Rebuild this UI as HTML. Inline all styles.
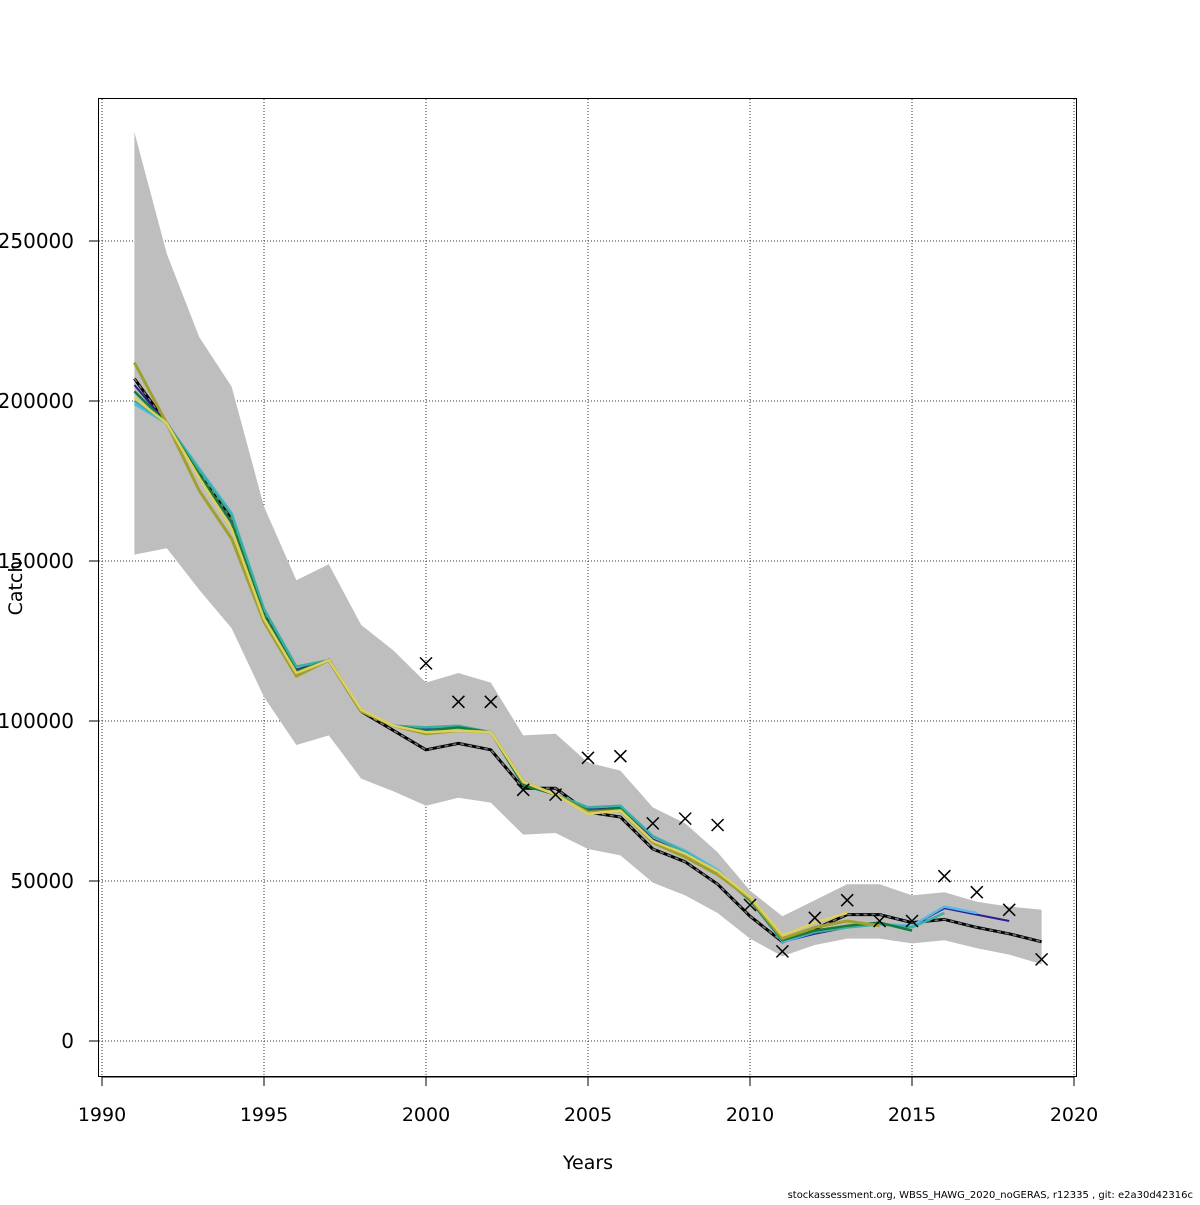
<!DOCTYPE html>
<html><head><meta charset="utf-8"><style>
body{margin:0;background:#fff}
svg text{font-family:"DejaVu Sans","Liberation Sans",sans-serif}
</style></head><body>
<svg id="chart" width="1200" height="1200" xmlns="http://www.w3.org/2000/svg">
<rect x="0" y="0" width="1200" height="1200" fill="#fff"/>
<g id="grid"></g>
<g id="band"></g>
<g id="lines"></g>
<g id="obs"></g>
<g id="axes"></g>
<rect x="98.5" y="98.5" width="978" height="978" fill="none" stroke="#000" stroke-width="1"/>
<text x="588" y="1169" font-size="19" text-anchor="middle">Years</text>
<text x="22" y="588" font-size="19" text-anchor="middle" transform="rotate(-90 22 588)">Catch</text>
<text x="1193" y="1198" font-size="10" text-anchor="end">stockassessment.org, WBSS_HAWG_2020_noGERAS, r12335 , git: e2a30d42316c</text>
</svg>
<script>
const years=[1991,1992,1993,1994,1995,1996,1997,1998,1999,2000,2001,2002,2003,2004,2005,2006,2007,2008,2009,2010,2011,2012,2013,2014,2015,2016,2017,2018,2019];
const estimate=[207,193,178,163,134,115,119,103,97,91,93,91,79,79,71.5,70,60,56,49,39,31,35,39.5,39.5,37,38,35.5,33.5,31];
const upper=[284,246,220,204.5,167,144,149,130,122,112,115,112,95.5,96,87,84.5,73,68,59,47,39,44,49,49,45.5,46.5,43.5,42,41];
const lower=[152,154,141,129,107.5,92.5,95.5,82,78,73.5,76,74.5,64.5,65,60,58,49.5,45.5,40,32,26.5,30,32,32,30.5,31.5,29,27,24];
const obsYears=[2000,2001,2002,2003,2004,2005,2006,2007,2008,2009,2010,2011,2012,2013,2014,2015,2016,2017,2018,2019];
const observed=[118,106,106,78.5,77,88.5,89,68,69.5,67.5,42.5,28,38.5,44,37.5,37.5,51.5,46.5,41,25.5];
const retroDarkBlue=[205,193,179,165,135,116,119,103,98.5,97.5,98,96.5,80,77,72.5,73,63,58.5,53,44,31,33.5,35.5,36.5,36,41.5,39.5,37.5];
const retroLightBlue=[199,193,179,165,135,117,119,103,98.5,98,98.5,96.5,80,77,73,73.5,64,59.5,53.5,44,31,34,35.5,36.5,36,42,40];
const retroTeal=[200,193,178.5,164.5,135,117,119,103,98.5,98,98.5,96.5,80,77,73,73.5,64,59,53,44,31.5,34,35.5,36.5,35.5,40];
const retroGreen=[203,193,177,162,133,115.5,119,103,98.5,97,98,96.5,80,77,72,72.5,62.5,58,52.5,44,31.5,34.5,36,37,34.5];
const retroOlive=[212,193,172,157,131,114,119,103,98.5,96,97,96.5,81,77,71.5,72,62,57.5,52,44.5,32,35.5,37.5,36];
const retroYellow=[201,193,176,160,132,115,119,103.5,98.5,96.5,97,96.5,81,77,71,72,62.5,58.5,53,45,33,37,40];
const xTicks=[1990,1995,2000,2005,2010,2015,2020];
const yTicks=[0,50000,100000,150000,200000,250000];
const yLabels=["0","50000","100000","150000","200000","250000"];

const X=y=>102+(y-1990)*32.4;
const Y=v=>1041-v*3.2;
const NS="http://www.w3.org/2000/svg";
function mk(tag,parent,attrs){const e=document.createElementNS(NS,tag);for(const k in attrs)e.setAttribute(k,attrs[k]);document.getElementById(parent).appendChild(e);return e;}

xTicks.forEach(t=>{
  const g=mk('line','grid',{x1:X(t),x2:X(t),y1:99,y2:1076,stroke:'#333','stroke-dasharray':'1,2','stroke-width':1});
  
  
  const tk=mk('line','axes',{x1:X(t),x2:X(t),y1:1077,y2:1086,stroke:'#000'});
  
  
  const tx=mk('text','axes',{x:X(t),y:1121,'font-size':19,'text-anchor':'middle'});
  tx.textContent=t;
  
  
});
const axl=mk('line','axes',{x1:X(1990),x2:X(2020),y1:1077,y2:1077,stroke:'#000'});


yTicks.forEach((t,i)=>{
  const g=mk('line','grid',{x1:99,x2:1076,y1:Y(t/1000),y2:Y(t/1000),stroke:'#333','stroke-dasharray':'1,2','stroke-width':1});
  
  
  const tk=mk('line','axes',{x1:89,x2:98,y1:Y(t/1000),y2:Y(t/1000),stroke:'#000'});
  
  
  const tx=mk('text','axes',{x:74,y:Y(t/1000)+7,'font-size':20,'text-anchor':'end'});
  tx.textContent=yLabels[i];
  
  
});

let d='M'+years.map((y,i)=>X(y)+','+Y(upper[i])).join(' L');
d+=' L'+years.map((y,i)=>[X(y),Y(lower[i])]).reverse().map(p=>p.join(',')).join(' L')+' Z';
const band=mk('path','band',{d:d,fill:'#bebebe',stroke:'none'});



function line(vals,color,w,name,dash){
  const p=vals.map((v,i)=>X(years[i])+','+Y(v)).join(' ');
  const e=mk('polyline','lines',{points:p,fill:'none',stroke:color,'stroke-width':w,'stroke-linejoin':'round'});
  if(dash)e.setAttribute('stroke-dasharray',dash);
  
  
}
line(estimate,'#000',3,'estimate-line');
line(estimate,'#777',1.5,'estimate-dash',"4,4");
line(retroDarkBlue,'#2a1f90',2,'retro-2018');
line(retroLightBlue,'#5ab8e8',2.5,'retro-2017');
line(retroTeal,'#3bb0a0',2.5,'retro-2016');
line(retroGreen,'#1a7a3a',2.5,'retro-2015');
line(retroOlive,'#a0a030',3,'retro-2014');
line(retroYellow,'#ddd060',2.5,'retro-2013');

obsYears.forEach((y,i)=>{
  const cx=X(y),cy=Y(observed[i]),s=6;
  const e=mk('path','obs',{d:`M${cx-s},${cy-s} L${cx+s},${cy+s} M${cx-s},${cy+s} L${cx+s},${cy-s}`,stroke:'#000','stroke-width':1.5,fill:'none'});
  
  
});
</script>
</body></html>
